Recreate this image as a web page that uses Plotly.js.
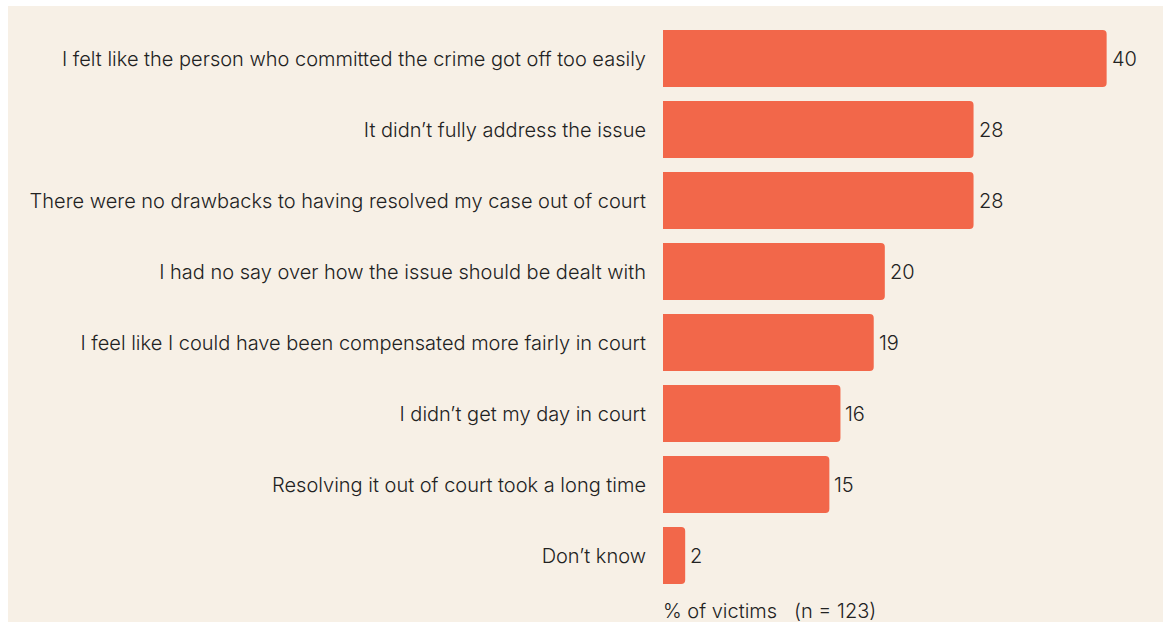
<!DOCTYPE html>
<html><head><meta charset="utf-8">
<script src="https://cdn.plot.ly/plotly-3.0.1.min.js"></script>
<style>
html,body{margin:0;padding:0;background:#ffffff;}
#chart{position:absolute;left:8px;top:6px;width:1155px;height:616px;}
</style></head>
<body><div id="chart"></div>
<script>
const categories = [
  "I felt like the person who committed the crime got off too easily",
  "It didn\u2019t fully address the issue",
  "There were no drawbacks to having resolved my case out of court",
  "I had no say over how the issue should be dealt with",
  "I feel like I could have been compensated more fairly in court",
  "I didn\u2019t get my day in court",
  "Resolving it out of court took a long time",
  "Don\u2019t know"
];
const values = [40, 28, 28, 20, 19, 16, 15, 2];
const axisLabel = "% of victims \u00a0 (n = 123)";

const font = "Inter, 'Noto Sans', sans-serif";
const fsize = 20;
const trace = {
  type: 'bar', orientation: 'h',
  y: categories, x: values,
  marker: {color: '#F2674A', cornerradius: 4},
  hoverinfo: 'none'
};
const valueNotes = values.map((v, i) => ({
  x: v, y: categories[i], xref: 'x', yref: 'y',
  text: String(v), showarrow: false, xanchor: 'left', yanchor: 'middle',
  xshift: 3, yshift: 0,
  font: {family: font, size: fsize, color: '#222222', weight: 300}
}));
const layout = {
  width: 1155, height: 616,
  paper_bgcolor: '#F7F0E6', plot_bgcolor: '#F7F0E6',
  margin: {l: 655, r: 12, t: 17, b: 31},
  bargap: 0.2,
  showlegend: false,
  font: {family: font, size: fsize, color: '#222222', weight: 300},
  xaxis: {range: [0, 44], visible: false, fixedrange: true},
  yaxis: {autorange: 'reversed', showgrid: false, zeroline: false, showline: false,
          ticks: 'outside', ticklen: 0, ticklabelstandoff: 12,
          tickfont: {family: font, size: fsize, color: '#222222', weight: 300}},
  annotations: valueNotes.concat([{
    text: axisLabel, xref: 'paper', yref: 'paper', x: 0, y: 0,
    xanchor: 'left', yanchor: 'top', yshift: -6, xshift: -2, showarrow: false,
    font: {family: font, size: fsize, color: '#222222', weight: 300}
  }])
};
Plotly.newPlot('chart', [trace], layout, {displayModeBar: false, staticPlot: true});
</script></body></html>
